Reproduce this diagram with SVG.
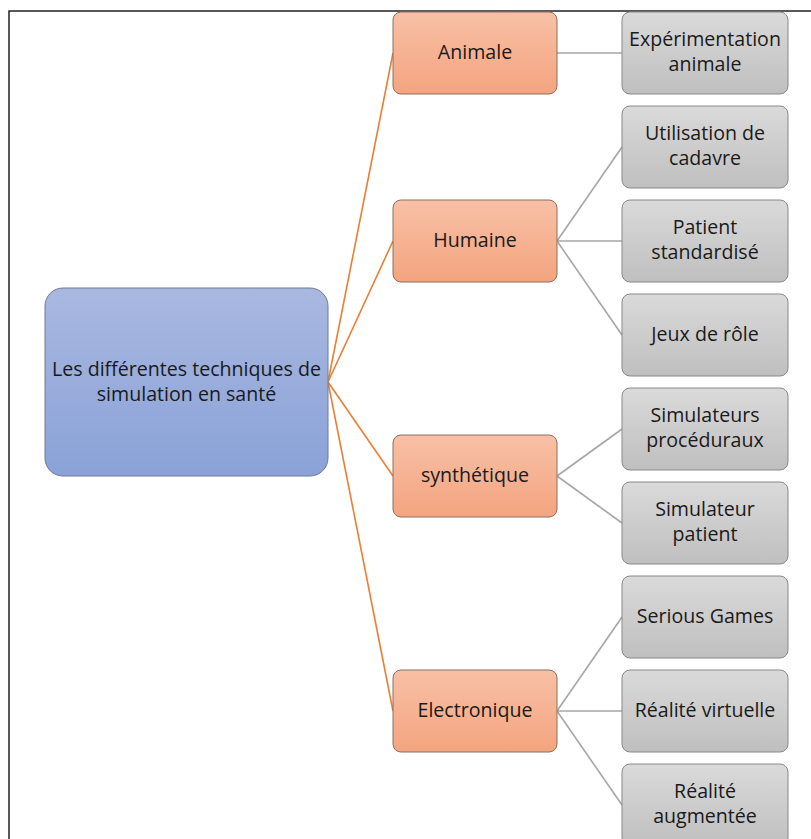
<svg xmlns="http://www.w3.org/2000/svg" width="811" height="839" viewBox="0 0 811 839">
<defs>
<linearGradient id="gRoot" x1="0" y1="0" x2="0" y2="1"><stop offset="0" stop-color="#a9b8e0"/><stop offset="1" stop-color="#8aa2d8"/></linearGradient>
<linearGradient id="gOr" x1="0" y1="0" x2="0" y2="1"><stop offset="0" stop-color="#f8c0a6"/><stop offset="1" stop-color="#f4a47f"/></linearGradient>
<linearGradient id="gGr" x1="0" y1="0" x2="0" y2="1"><stop offset="0" stop-color="#dadada"/><stop offset="1" stop-color="#bfbfbf"/></linearGradient>
</defs>
<style>
.t{font-family:"Open Sans","Noto Sans",sans-serif;font-size:19.6px;fill:#1a1a1a;text-anchor:middle}
.root{fill:url(#gRoot);stroke:#6f7a90;stroke-width:1}
.or{fill:url(#gOr);stroke:#8a7060;stroke-width:1}
.gr{fill:url(#gGr);stroke:#888;stroke-width:1}
.lo{stroke:#ed7d31;stroke-width:1.6;fill:none}
.lg{stroke:#a6a6a6;stroke-width:1.6;fill:none}
.frame{stroke:#222;stroke-width:1.5;fill:none}
</style>
<rect width="811" height="839" fill="#fff"/>
<path class="frame" d="M9,839 V11 H811"/>
<g id="connectors">
<line class="lo" x1="328" y1="382" x2="393" y2="53"/>
<line class="lo" x1="328" y1="382" x2="393" y2="241"/>
<line class="lo" x1="328" y1="382" x2="393" y2="476"/>
<line class="lo" x1="328" y1="382" x2="393" y2="711"/>
<line class="lg" x1="557" y1="53" x2="622" y2="53"/>
<line class="lg" x1="557" y1="241" x2="622" y2="147"/>
<line class="lg" x1="557" y1="241" x2="622" y2="241"/>
<line class="lg" x1="557" y1="241" x2="622" y2="335"/>
<line class="lg" x1="557" y1="476" x2="622" y2="429"/>
<line class="lg" x1="557" y1="476" x2="622" y2="523"/>
<line class="lg" x1="557" y1="711" x2="622" y2="617"/>
<line class="lg" x1="557" y1="711" x2="622" y2="711"/>
<line class="lg" x1="557" y1="711" x2="622" y2="805"/>
</g>
<g id="root"><rect class="root" x="45" y="288" width="283" height="188" rx="18"/>
<text class="t" x="186.5" y="376">Les différentes techniques de</text>
<text class="t" x="186.5" y="401">simulation en santé</text></g>
<g id="animale"><rect class="or" x="393" y="12" width="164" height="82" rx="8"/><text class="t" x="475" y="59">Animale</text></g>
<g id="humaine"><rect class="or" x="393" y="200" width="164" height="82" rx="8"/><text class="t" x="475" y="247">Humaine</text></g>
<g id="synthetique"><rect class="or" x="393" y="435" width="164" height="82" rx="8"/><text class="t" x="475" y="482">synthétique</text></g>
<g id="electronique"><rect class="or" x="393" y="670" width="164" height="82" rx="8"/><text class="t" x="475" y="717">Electronique</text></g>
<g id="experimentation"><rect class="gr" x="622" y="12" width="166" height="82" rx="8"/><text class="t" x="705" y="46">Expérimentation</text><text class="t" x="705" y="71">animale</text></g>
<g id="cadavre"><rect class="gr" x="622" y="106" width="166" height="82" rx="8"/><text class="t" x="705" y="140">Utilisation de</text><text class="t" x="705" y="165">cadavre</text></g>
<g id="patient-std"><rect class="gr" x="622" y="200" width="166" height="82" rx="8"/><text class="t" x="705" y="234">Patient</text><text class="t" x="705" y="259">standardisé</text></g>
<g id="jeux"><rect class="gr" x="622" y="294" width="166" height="82" rx="8"/><text class="t" x="705" y="341">Jeux de rôle</text></g>
<g id="proceduraux"><rect class="gr" x="622" y="388" width="166" height="82" rx="8"/><text class="t" x="705" y="422">Simulateurs</text><text class="t" x="705" y="447">procéduraux</text></g>
<g id="sim-patient"><rect class="gr" x="622" y="482" width="166" height="82" rx="8"/><text class="t" x="705" y="516">Simulateur</text><text class="t" x="705" y="541">patient</text></g>
<g id="serious"><rect class="gr" x="622" y="576" width="166" height="82" rx="8"/><text class="t" x="705" y="623">Serious Games</text></g>
<g id="virtuelle"><rect class="gr" x="622" y="670" width="166" height="82" rx="8"/><text class="t" x="705" y="717">Réalité virtuelle</text></g>
<g id="augmentee"><rect class="gr" x="622" y="764" width="166" height="82" rx="8"/><text class="t" x="705" y="798">Réalité</text><text class="t" x="705" y="823">augmentée</text></g>
</svg>
